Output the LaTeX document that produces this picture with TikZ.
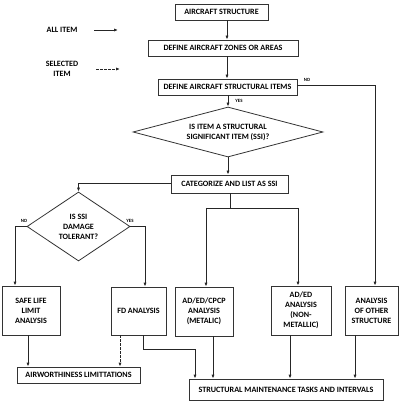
\documentclass[tikz,border=0pt]{standalone}
\usepackage{fontspec}
\setmainfont{Carlito}[BoldFont={Carlito Bold}]
\usetikzlibrary{shapes.geometric,arrows.meta}
\begin{document}
\begin{tikzpicture}[x=1pt,y=-1pt,
  every node/.style={font=\bfseries\fontsize{8.1}{10}\selectfont, text=black, align=center, inner sep=0pt},
  box/.style={draw=black!80, line width=0.8pt, rectangle},
  dia/.style={draw=black!80, line width=0.8pt, diamond},
  lbl/.style={font=\bfseries\fontsize{4.8}{5}\selectfont},
  con/.style={draw=black!85, line width=0.8pt},
  arr/.style={con, -{Latex[length=4pt,width=3.2pt]}},
  darr/.style={arr, dash pattern=on 2.5pt off 1.5pt}]
\useasboundingbox (0,0) rectangle (400,411);
% legend
\node (all) at (62,30) {ALL ITEM};
\coordinate (a1) at (94,30); \coordinate (a2) at (118,30);
\draw[arr] (a1) -- (a2);
\node (sel) at (62,69) {SELECTED\\ITEM};
\coordinate (s1) at (96,69); \coordinate (s2) at (120,69);
\draw[darr] (s1) -- (s2);
% nodes
\node[box, minimum width=93pt, minimum height=16pt] (ac) at (221.5,12) {AIRCRAFT STRUCTURE};
\node[box, minimum width=150pt, minimum height=16pt] (zn) at (223,48) {DEFINE AIRCRAFT ZONES OR AREAS};
\node[box, minimum width=139pt, minimum height=16pt] (it) at (227.5,87) {DEFINE AIRCRAFT STRUCTURAL ITEMS};
\node[dia, aspect=3.8, minimum width=190pt, minimum height=50pt] (ssi) at (228,132) {IS ITEM A STRUCTURAL\\SIGNIFICANT ITEM (SSI)?};
\node[box, minimum width=117pt, minimum height=18pt] (cat) at (229.5,184) {CATEGORIZE AND LIST AS SSI};
\node[dia, aspect=1.5, minimum width=103pt, minimum height=69pt] (dt) at (78.5,226.5) {IS SSI\\DAMAGE\\TOLERANT?};
\node[box, minimum width=58pt, minimum height=49pt] (sl) at (31,310.5) {SAFE LIFE\\LIMIT\\ANALYSIS};
\node[box, minimum width=55pt, minimum height=48pt] (fd) at (138.5,311) {FD ANALYSIS};
\node[box, minimum width=58pt, minimum height=49pt] (cp) at (204,311.5) {AD/ED/CPCP\\ANALYSIS\\(METALIC)};
\node[box, minimum width=60pt, minimum height=49pt] (nm) at (301,310.5) {AD/ED\\ANALYSIS\\(NON-\\METALLIC)};
\node[box, minimum width=53pt, minimum height=49pt] (os) at (371.5,310.5) {ANALYSIS\\OF OTHER\\STRUCTURE};
\node[box, minimum width=123pt, minimum height=16pt] (aw) at (78.5,375) {AIRWORTHINESS LIMITTATIONS};
\node[box, minimum width=194pt, minimum height=21pt] (sm) at (286,389.5) {STRUCTURAL MAINTENANCE TASKS AND INTERVALS};
% labels
\node[lbl] (no1) at (307,80) {NO};
\node[lbl] (yes1) at (239,101) {YES};
\node[lbl] (no2) at (24,221) {NO};
\node[lbl] (yes2) at (130,221) {YES};
% connectors
\coordinate (sp) at (227,0);
\draw[arr] (ac.south -| sp) -- (zn.north -| sp);
\draw[arr] (zn.south -| sp) -- (it.north -| sp);
\draw[arr] (it.south -| ssi) -- (ssi.north);
\draw[arr] (ssi.south) -- (cat.north -| ssi.south);
\coordinate (c1) at (0,183);
\draw[arr] (cat.west |- c1) -| (dt.north);
\coordinate (j1) at (230,208);
\coordinate (xl) at (206,0); \coordinate (xr) at (298,0);
\draw[con] (cat.south -| j1) -- (j1);
\draw[con] (j1 -| xl) -- (j1 -| xr);
\draw[arr] (j1 -| xl) -- (cp.north -| xl);
\draw[arr] (j1 -| xr) -- (nm.north -| xr);
\coordinate (xsl) at (15,0); \coordinate (xfd) at (145,0);
\draw[arr] (dt.west) -- (dt.west -| xsl) -- (sl.north -| xsl);
\draw[arr] (dt.east) -- (dt.east -| xfd) -- (fd.north -| xfd);
\coordinate (yn) at (0,85); \coordinate (xos) at (375,0);
\draw[arr] (it.east |- yn) -- (xos |- yn) -- (os.north -| xos);
\coordinate (x28) at (28,0); \coordinate (x120) at (120,0);
\draw[arr] (sl.south -| x28) -- (aw.north -| x28);
\draw[darr] (fd.south -| x120) -- (aw.north -| x120);
\coordinate (b1) at (143,349); \coordinate (x195) at (195,0);
\draw[arr] (fd.south -| b1) -- (b1) -- (b1 -| x195) -- (sm.north -| x195);
\coordinate (x213) at (213,0); \coordinate (x290) at (290,0); \coordinate (x355) at (355,0);
\draw[arr] (cp.south -| x213) -- (sm.north -| x213);
\draw[arr] (nm.south -| x290) -- (sm.north -| x290);
\draw[arr] (os.south -| x355) -- (sm.north -| x355);
\end{tikzpicture}
\end{document}
